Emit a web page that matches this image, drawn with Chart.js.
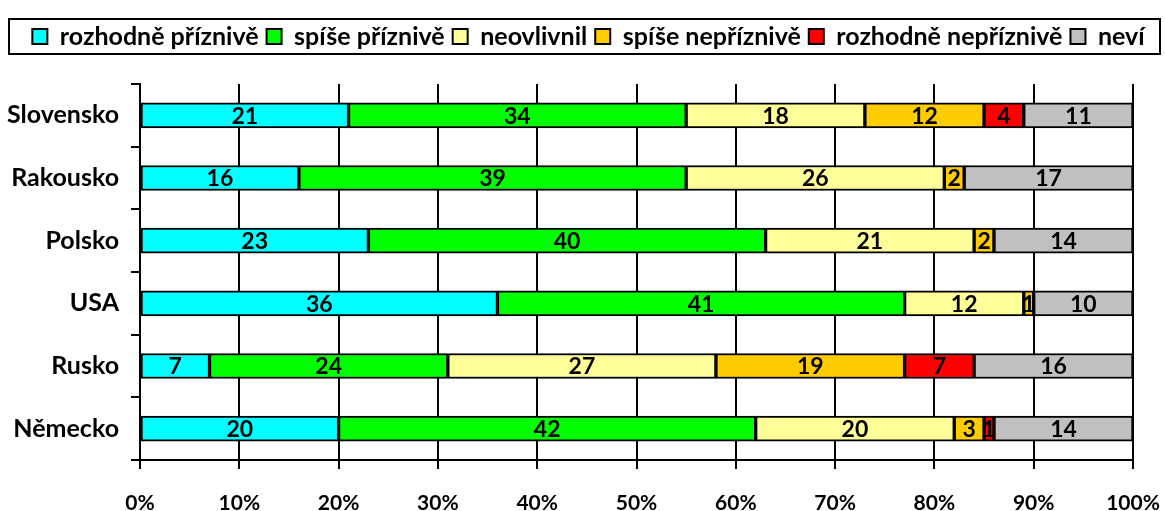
<!DOCTYPE html>
<html>
<head>
<meta charset="utf-8">
<script src="https://cdn.jsdelivr.net/npm/chart.js@4"></script>
<style>
  html, body { margin: 0; padding: 0; background: #fff; }
  #wrap { width: 1165px; height: 511px; }
</style>
</head>
<body>
<div id="wrap"><canvas id="barChart" width="1165" height="511"></canvas></div>
<script>
const countries = ['Slovensko', 'Rakousko', 'Polsko', 'USA', 'Rusko', 'Německo'];
const seriesNames = ['rozhodně příznivě', 'spíše příznivě', 'neovlivnil', 'spíše nepříznivě', 'rozhodně nepříznivě', 'neví'];
const seriesColors = ['#00FFFF', '#00FF00', '#FFFF99', '#FFCC00', '#FF0000', '#C0C0C0'];

const rozhodnePriznive = [21, 16, 23, 36, 7, 20];
const spisePriznive = [34, 39, 40, 41, 24, 42];
const neovlivnil = [18, 26, 21, 12, 27, 20];
const spiseNepriznive = [12, 2, 2, 1, 19, 3];
const rozhodneNepriznive = [4, 0, 0, 0, 7, 1];
const nevi = [11, 17, 14, 10, 16, 14];

const xTicks = [0, 10, 20, 30, 40, 50, 60, 70, 80, 90, 100];

const allValues = [rozhodnePriznive, spisePriznive, neovlivnil, spiseNepriznive, rozhodneNepriznive, nevi];
const FONT = 'Lato, "DejaVu Sans", sans-serif';
const LEGEND_SHIFT = 22;

// value labels in the middle of each segment
const segmentLabels = {
    id: 'segmentLabels',
    afterDatasetsDraw(chart) {
        const ctx = chart.ctx;
        ctx.save();
        ctx.font = 'bold 23px ' + FONT;
        ctx.fillStyle = '#000';
        ctx.textAlign = 'center';
        ctx.textBaseline = 'middle';
        chart.data.datasets.forEach((ds, i) => {
            const meta = chart.getDatasetMeta(i);
            meta.data.forEach((bar, j) => {
                const v = ds.data[j];
                if (!v) return;
                const p = bar.getProps(['x', 'y', 'base'], true);
                ctx.fillText(String(v), (p.x + p.base) / 2, p.y + 1);
            });
        });
        ctx.restore();
    }
};

// more room under the legend, shift it right a bit, and a frame round it
const legendFrame = {
    id: 'legendFrame',
    beforeLayout(chart) {
        const lg = chart.legend;
        if (lg && !lg._patched) {
            const origFit = lg.fit.bind(lg);
            lg.fit = function () {
                origFit();
                this.height += 25;
            };
            const origDraw = lg.draw.bind(lg);
            lg.draw = function () {
                const ctx = chart.ctx;
                ctx.save();
                ctx.translate(LEGEND_SHIFT, 0);
                origDraw();
                ctx.restore();
            };
            lg._patched = true;
        }
    },
    afterDraw(chart) {
        const boxes = chart.legend.legendHitBoxes;
        if (!boxes || !boxes.length) return;
        const top = Math.min(...boxes.map(b => b.top));
        const bottom = Math.max(...boxes.map(b => b.top + b.height));
        const ctx = chart.ctx;
        ctx.save();
        ctx.strokeStyle = '#000';
        ctx.lineWidth = 2;
        ctx.strokeRect(9, top - 5, 1151, bottom - top + 10);
        ctx.restore();
    }
};

new Chart(document.getElementById('barChart'), {
    type: 'bar',
    data: {
        labels: countries,
        datasets: seriesNames.map((name, i) => ({
            label: name,
            data: allValues[i],
            backgroundColor: seriesColors[i],
            borderColor: '#000',
            borderWidth: 2,
            borderSkipped: false,
            barThickness: 25
        }))
    },
    options: {
        indexAxis: 'y',
        responsive: false,
        animation: false,
        layout: { padding: { top: 16, right: 32, left: 0, bottom: 0 } },
        plugins: {
            tooltip: { enabled: false },
            legend: {
                position: 'top',
                labels: {
                    color: '#000',
                    font: { family: FONT, size: 25, weight: 'bold' },
                    boxWidth: 15,
                    boxHeight: 15,
                    padding: 8,
                    generateLabels(chart) {
                        return chart.data.datasets.map((ds, i) => ({
                            text: ds.label,
                            fillStyle: ds.backgroundColor,
                            strokeStyle: '#000',
                            lineWidth: 2,
                            datasetIndex: i,
                            fontColor: '#000'
                        }));
                    }
                }
            }
        },
        scales: {
            x: {
                stacked: true,
                min: 0,
                max: 100,
                afterBuildTicks(scale) {
                    scale.ticks = xTicks.map(v => ({ value: v }));
                },
                afterFit(scale) {
                    scale.height = 51;
                    scale.paddingLeft = 0;
                    scale.paddingRight = 0;
                },
                grid: { color: '#000', lineWidth: 2, tickLength: 9 },
                border: { color: '#000', width: 2 },
                ticks: {
                    color: '#000',
                    padding: 22,
                    maxRotation: 0,
                    font: { family: FONT, size: 21, weight: 'bold' },
                    callback: v => v + '%'
                }
            },
            y: {
                stacked: true,
                afterFit(scale) {
                    scale.width = 140;
                    scale.paddingTop = 0;
                    scale.paddingBottom = 0;
                },
                grid: { offset: true, drawOnChartArea: false, color: '#000', lineWidth: 2, tickLength: 9 },
                border: { color: '#000', width: 2 },
                ticks: {
                    color: '#000',
                    padding: 12,
                    font: { family: FONT, size: 25, weight: 'bold' }
                }
            }
        }
    },
    plugins: [segmentLabels, legendFrame]
});
</script>
</body>
</html>
